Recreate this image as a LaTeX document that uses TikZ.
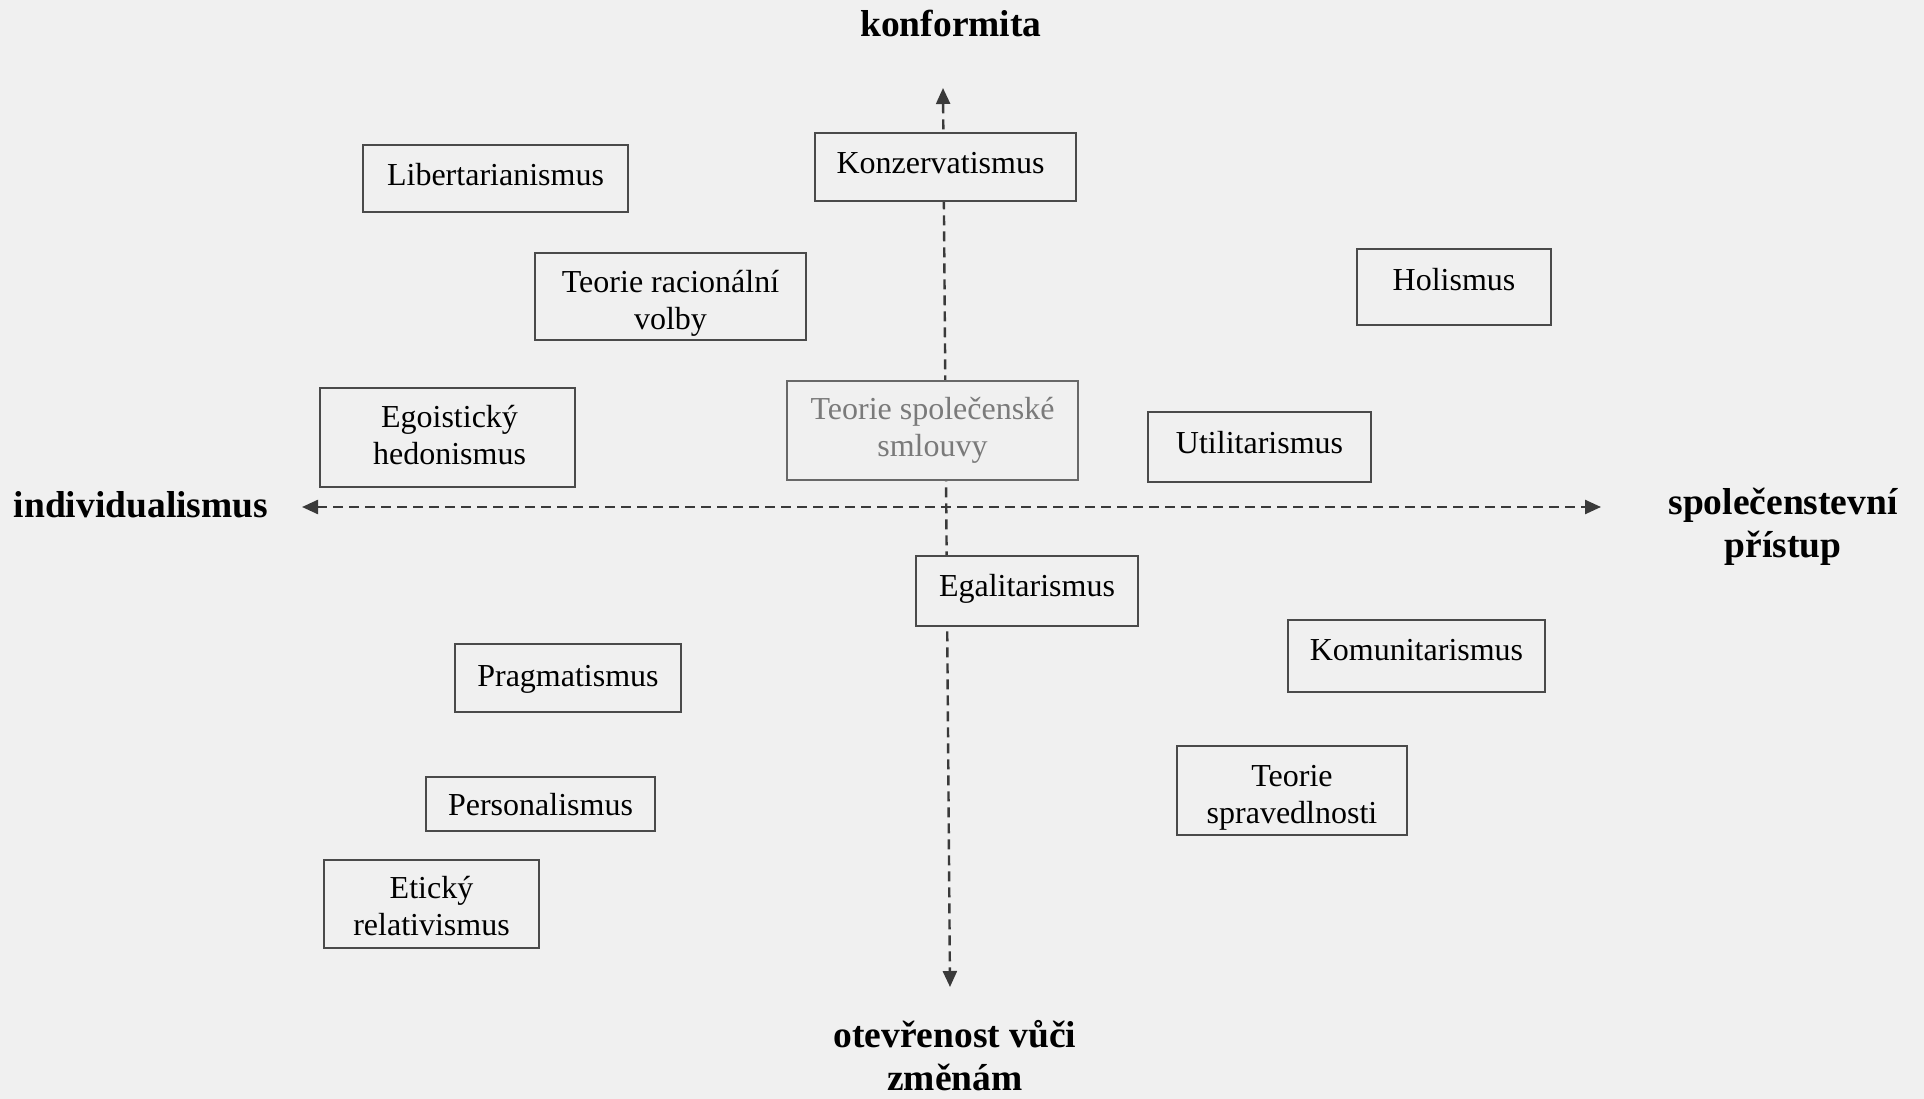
\documentclass[tikz,border=0pt]{standalone}
\usepackage{fontspec}
\setmainfont{Liberation Serif}
\usetikzlibrary{arrows.meta}
\definecolor{bg}{HTML}{F0F0F0}
\definecolor{boxline}{HTML}{4A4A4A}
\definecolor{axis}{HTML}{3A3A3A}
\definecolor{faded}{HTML}{7A7A7A}
\tikzset{
  box/.style={draw=boxline, line width=2.6pt, fill=bg, inner sep=0pt},
  fadedbox/.style={box, draw=faded!85!black},
  boxtext/.style={align=center, inner sep=0pt, font=\fontsize{32}{37}\selectfont, text=black},
  fadedtext/.style={boxtext, text=faded},
  axislab/.style={align=center, inner sep=0pt, font=\fontsize{37.5}{43}\selectfont\bfseries},
  axisline/.style={draw=axis, line width=2.4pt, dash pattern=on 10pt off 6pt},
  tipboth/.style={{Triangle[length=16pt,width=14pt]}-{Triangle[length=16pt,width=14pt]}}
}
\begin{document}
\begin{tikzpicture}[x=1pt,y=-1pt]
\fill[bg] (0,0) rectangle (1924,1099);
\useasboundingbox (0,0) rectangle (1924,1099);
% axes
\coordinate (L) at (302,507);
\coordinate (R) at (1601,507);
\coordinate (T) at (943,88);
\coordinate (B) at (950,987);
\draw[axisline, tipboth] (L) -- (R);
\draw[axisline, tipboth] (T) -- (B);
% boxes
\node[box, minimum width=261pt, minimum height=68pt,
  label={[boxtext, xshift=-5pt, yshift=4pt]center:Konzervatismus}] (konz) at (945.5,167) {};
\node[box, minimum width=265pt, minimum height=67pt,
  label={[boxtext, yshift=4pt]center:Libertarianismus}] (lib) at (495.5,178.5) {};
\node[box, minimum width=271pt, minimum height=87pt,
  label={[boxtext, yshift=-7pt]center:{Teorie racionální\\volby}}] (trv) at (670.5,296.5) {};
\node[box, minimum width=194pt, minimum height=76pt,
  label={[boxtext, yshift=7pt]center:Holismus}] (hol) at (1454,287) {};
\node[box, minimum width=255pt, minimum height=99pt,
  label={[boxtext, xshift=2pt, yshift=2pt]center:{Egoistický\\hedonismus}}] (ego) at (447.5,437.5) {};
\node[fadedbox, minimum width=291pt, minimum height=99pt,
  label={[fadedtext]center:{Teorie společenské\\smlouvy}}] (tss) at (932.5,430.5) {};
\node[box, minimum width=223pt, minimum height=70pt,
  label={[boxtext, yshift=4pt]center:Utilitarismus}] (util) at (1259.5,447) {};
\node[box, minimum width=222pt, minimum height=70pt,
  label={[boxtext, yshift=2pt]center:Egalitarismus}] (egal) at (1027,591) {};
\node[box, minimum width=257pt, minimum height=72pt,
  label={[boxtext, yshift=6pt]center:Komunitarismus}] (kom) at (1416.5,656) {};
\node[box, minimum width=226pt, minimum height=68pt,
  label={[boxtext, yshift=-1pt]center:Pragmatismus}] (prag) at (568,678) {};
\node[box, minimum width=230pt, minimum height=89pt,
  label={[boxtext, yshift=-7pt]center:{Teorie\\spravedlnosti}}] (tspr) at (1292,790.5) {};
\node[box, minimum width=229pt, minimum height=54pt,
  label={[boxtext, yshift=-1pt]center:Personalismus}] (pers) at (540.5,804) {};
\node[box, minimum width=215pt, minimum height=88pt,
  label={[boxtext, yshift=-2pt]center:{Etický\\relativismus}}] (etr) at (431.5,904) {};
% axis labels
\node[axislab] (top) at (951,23) {konformita};
\node[axislab] (left) at (141,505) {individualismus};
\node[axislab] (right) at (1783,527) {společenstevní\\přístup};
\node[axislab] (bottom) at (955,1056) {otevřenost vůči\\změnám};
\end{tikzpicture}
\end{document}
